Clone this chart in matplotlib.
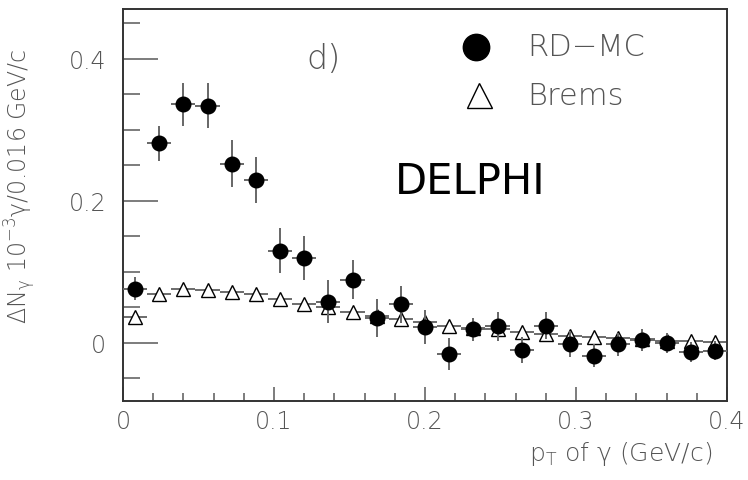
import numpy as np
import matplotlib.pyplot as plt
from matplotlib.ticker import MultipleLocator

# bin centres (0.016 GeV/c bins)
pt = [0.008, 0.024, 0.040, 0.056, 0.072, 0.088, 0.104, 0.120, 0.136,
      0.152, 0.168, 0.184, 0.200, 0.216, 0.232, 0.248, 0.264, 0.280,
      0.296, 0.312, 0.328, 0.344, 0.360, 0.376, 0.392]
half_bin = 0.008

rd_mc = [0.076, 0.281, 0.336, 0.334, 0.252, 0.229, 0.130, 0.120, 0.058,
         0.089, 0.035, 0.054, 0.022, -0.016, 0.019, 0.023, -0.010, 0.024,
         -0.002, -0.018, -0.002, 0.004, 0.000, -0.013, -0.011]
rd_mc_err = [0.016, 0.025, 0.030, 0.032, 0.033, 0.032, 0.031, 0.031, 0.030,
             0.028, 0.027, 0.026, 0.024, 0.023, 0.016, 0.021, 0.018, 0.019,
             0.018, 0.016, 0.016, 0.015, 0.014, 0.014, 0.013]

brems = [0.037, 0.069, 0.076, 0.074, 0.072, 0.069, 0.061, 0.055, 0.050,
         0.044, 0.038, 0.034, 0.029, 0.024, 0.021, 0.019, 0.015, 0.013,
         0.010, 0.008, 0.007, 0.005, 0.003, 0.002, 0.001]

grey = '#666666'
txt = '#555555'
plt.rcParams['font.family'] = ['DejaVu Sans']
plt.rcParams['mathtext.fontset'] = 'custom'
plt.rcParams['mathtext.rm'] = 'DejaVu Sans:light'
plt.rcParams['mathtext.it'] = 'DejaVu Sans:light'
plt.rcParams['mathtext.bf'] = 'DejaVu Sans:light'
plt.rcParams['mathtext.default'] = 'rm'

fig = plt.figure(figsize=(7.48, 4.81), dpi=100)
ax = fig.add_axes([0.1644, 0.1642, 0.8076, 0.8148])

ax.errorbar(pt, brems, xerr=half_bin, fmt='^', ms=9.5, mfc='white', mec='black',
            mew=1.0, ecolor='#444444', elinewidth=1.1, capsize=0, zorder=2)
ax.errorbar(pt, rd_mc, xerr=half_bin, yerr=rd_mc_err, fmt='o', ms=10.5,
            mfc='black', mec='black', ecolor=grey, elinewidth=1.4, capsize=0,
            zorder=3)

ax.set_xlim(0, 0.4)
ax.set_ylim(-0.082, 0.47)
ax.xaxis.set_major_locator(MultipleLocator(0.1))
ax.xaxis.set_minor_locator(MultipleLocator(0.02))
ax.yaxis.set_major_locator(MultipleLocator(0.2))
ax.yaxis.set_minor_locator(MultipleLocator(0.05))
fmt = plt.FuncFormatter(lambda v, p: '0' if abs(v) < 1e-9 else '%g' % v)
ax.xaxis.set_major_formatter(fmt)
ax.yaxis.set_major_formatter(fmt)

ax.tick_params(which='both', direction='in', top=False, right=False,
               color=grey, labelcolor=txt, labelsize=17, width=1.2)
ax.tick_params(axis='x', which='major', length=10, pad=6)
ax.tick_params(axis='x', which='minor', length=6)
ax.tick_params(axis='y', which='major', length=25, pad=12)
ax.tick_params(axis='y', which='minor', length=12)
for lab in ax.get_xticklabels() + ax.get_yticklabels():
    lab.set_fontweight('light')
for s in ax.spines.values():
    s.set_color('#333333')
    s.set_linewidth(1.4)

ax.set_ylabel(r'$\Delta$N$_\gamma$ 10$^{-3}$$\gamma$/0.016 GeV/c', color=txt,
              fontsize=17, fontweight='light')
ax.yaxis.set_label_coords(-0.14, 0.55)
ax.set_xlabel(r'p$_{\rm T}$ of $\gamma$ (GeV/c)', color=txt, fontsize=18,
              fontweight='light', loc='right')
ax.xaxis.set_label_coords(0.975, -0.097)

ax.text(0.1325, 0.40, 'd)', color=txt, fontsize=24, fontweight='light',
        ha='center', va='center')
ax.plot([0.234], [0.417], 'o', ms=19, color='black')
ax.text(0.268, 0.417, 'RD\u2212MC', color=txt, fontsize=22,
        fontweight='light', va='center')
ax.plot([0.236], [0.349], '^', ms=18, mfc='white', mec='black', mew=1.0)
ax.text(0.268, 0.349, 'Brems', color=txt, fontsize=22, fontweight='light',
        va='center')
ax.text(0.18, 0.228, 'DELPHI', color='black', fontsize=30, va='center')

fig.savefig('out.png', dpi=100)
